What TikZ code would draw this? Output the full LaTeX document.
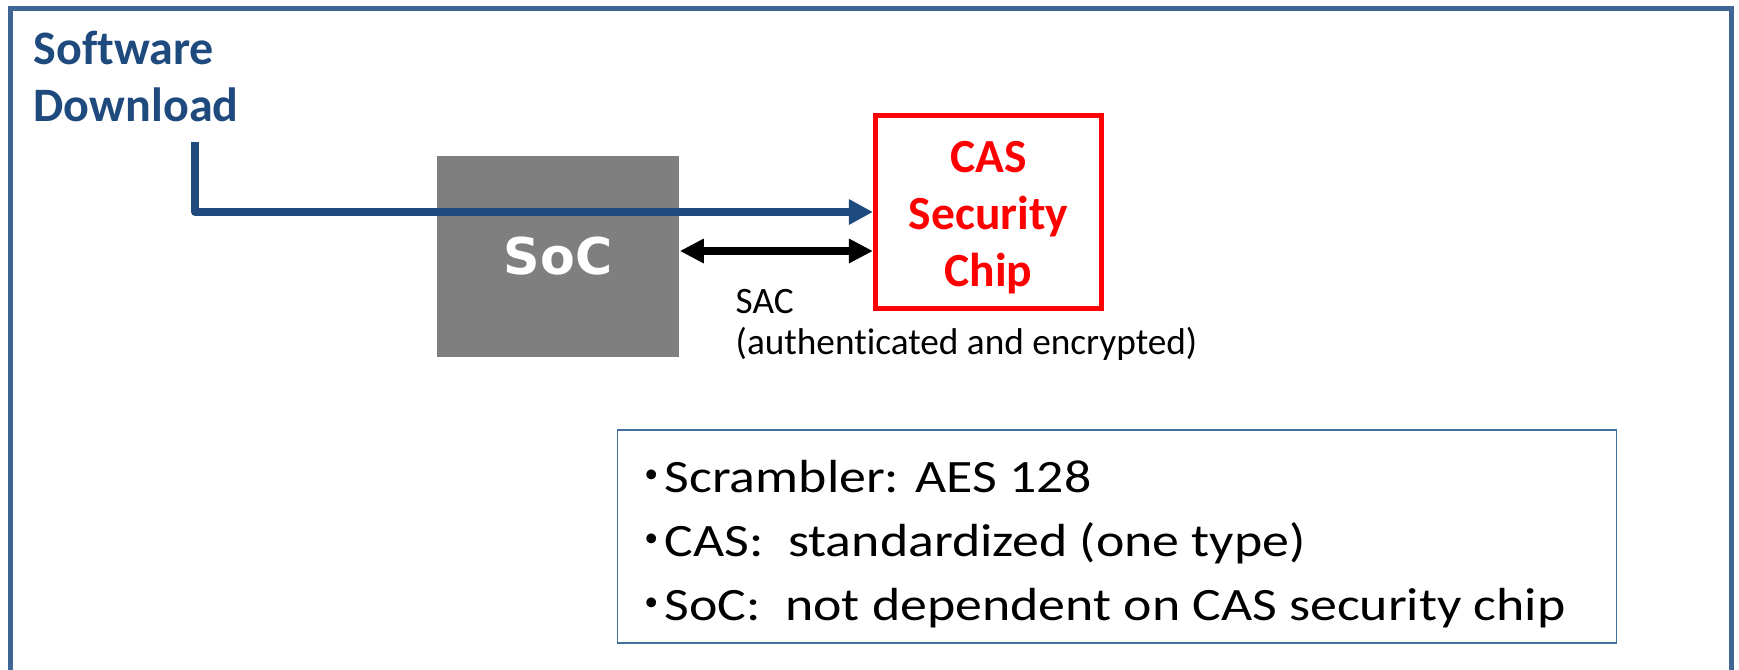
\documentclass[tikz,border=0pt]{standalone}
\usepackage{fontspec}
\setmainfont{Carlito}[Ligatures={NoCommon}]
\newfontfamily\socfont{DejaVu Sans}
\newfontfamily\cjk{Noto Sans CJK JP}
\usetikzlibrary{arrows.meta}

\definecolor{frameblue}{HTML}{3F6594}
\definecolor{feedblue}{HTML}{1F4A7E}
\definecolor{noteblue}{HTML}{41719C}
\definecolor{socgray}{HTML}{7F7F7F}
\definecolor{casred}{HTML}{FF0000}

% 1 unit = 1/100 cm, y grows downwards
\tikzset{
  x=0.01cm, y=-0.01cm,
  frame/.style={draw=frameblue, line width=1.42pt},
  heading/.style={inner sep=0pt, align=left, text=feedblue,
    font=\bfseries\fontsize{13.66pt}{16.22pt}\selectfont},
  socbox/.style={fill=socgray, minimum width=2.42cm, minimum height=2.01cm,
    inner sep=0pt, text=white,
    font=\socfont\bfseries\fontsize{14.4pt}{17pt}\selectfont},
  casbox/.style={draw=casred, line width=1.42pt, minimum width=2.26cm,
    minimum height=1.93cm, inner sep=0pt, align=center, text=casred,
    font=\bfseries\fontsize{13.52pt}{16.22pt}\selectfont},
  feed/.style={draw=feedblue, line width=2.13pt, line join=round,
    -{Triangle[length=6.83pt,width=6.83pt]}},
  sacarrow/.style={draw=black, line width=2.28pt,
    {Triangle[length=6.83pt,width=6.55pt]}-{Triangle[length=6.83pt,width=6.55pt]}},
  saclabel/.style={inner sep=0pt, align=left,
    font=\fontsize{10.6pt}{11.6pt}\selectfont},
  notebox/.style={draw=noteblue, line width=0.43pt, minimum width=9.98cm,
    minimum height=2.13cm, inner sep=0pt},
  noteline/.style={inner sep=0pt, anchor=base west,
    font=\fontsize{13.2pt}{15pt}\selectfont},
}
\newcommand\notebullet{\makebox[7.4pt][c]{\cjk ・}}

\begin{document}
\begin{tikzpicture}
\useasboundingbox (0,0) rectangle (1739,669);

% outer frame, open at the bottom
\draw[frame] (10.8,680) |- (1731.5,8.5) -- (1731.5,680);

% heading
\node[heading, anchor=north west] (dl) at (33,30) {Software\\Download};

% blocks
\node[socbox] (soc) at (558,256.5) {SoC};
\node[casbox] (cas) at (988.5,212) {\rule{0pt}{12pt}CAS\\Security\\Chip};

% software download path into the security chip
\coordinate (dlfeed) at (195,142);
\draw[feed] (dlfeed) |- (cas.west);

% secure authenticated channel
\coordinate (sacrow) at (0,251);
\draw[sacarrow] (soc.east |- sacrow) -- (cas.west |- sacrow);
\node[saclabel, anchor=north west] (sac) at (735,289)
  {SAC\\(authenticated and encrypted)};

% notes
\node[notebox] (notes) at (1117,536.5) {};
\node[noteline] (n1) at (638,492)
  {\notebullet\scalebox{1.16}[1]{Scrambler: AES 128}};
\node[noteline] (n2) at (638,556)
  {\notebullet\scalebox{1.16}[1]{CAS:\ \ standardized (one type)}};
\node[noteline] (n3) at (638,620)
  {\notebullet\scalebox{1.16}[1]{SoC:\ \ not dependent on CAS security chip}};
\end{tikzpicture}
\end{document}
